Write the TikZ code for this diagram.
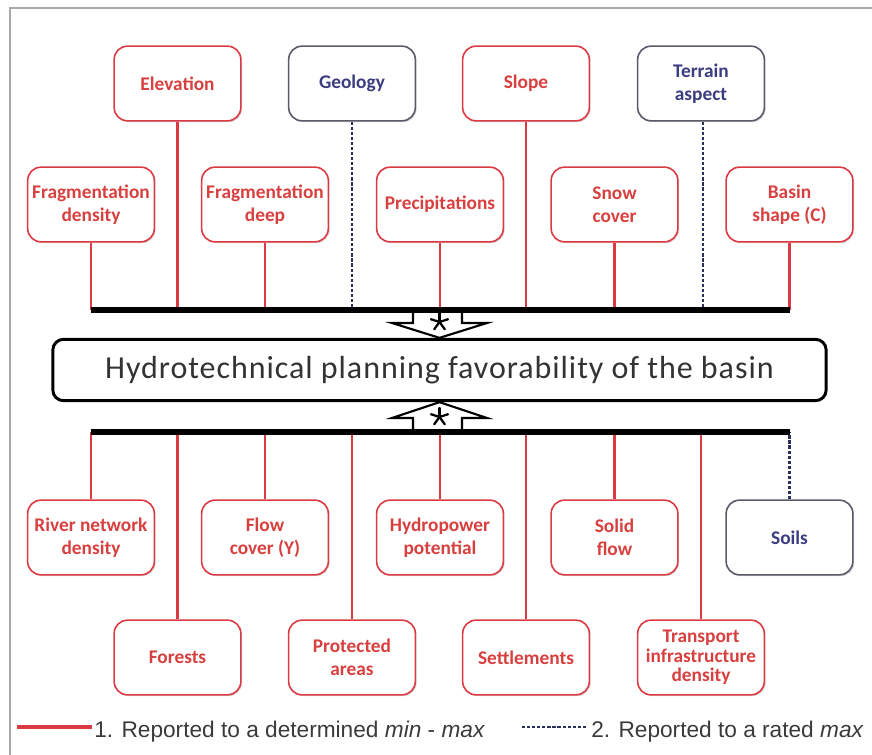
\documentclass[tikz,border=0pt]{standalone}
\usepackage{fontspec}
\setmainfont{Carlito}
\newfontfamily\legfont{Liberation Sans}
\newfontfamily\cenfont[LetterSpace=3]{Carlito}
\usetikzlibrary{shadows}
\definecolor{redl}{HTML}{DC3A42}
\definecolor{redt}{HTML}{D8403F}
\definecolor{navyl}{HTML}{2A2F5C}
\definecolor{navyt}{HTML}{3C3C80}
\definecolor{navyb}{HTML}{5A5A6A}
\definecolor{framec}{HTML}{A8A8A8}
\definecolor{legt}{HTML}{3A3A3A}
\tikzset{
  fbox/.style={draw=redl, line width=1.2pt, rounded corners=10pt, fill=white,
    minimum width=95pt, minimum height=56pt, inner sep=0pt, align=center,
    text=redt, font=\fontsize{14.5}{17.3}\selectfont\bfseries,
    drop shadow={shadow xshift=1pt, shadow yshift=-1pt, opacity=0.3}},
  gbox/.style={fbox, draw=navyb, text=navyt},
  redcon/.style={draw=redl, line width=1.6pt},
  bluecon/.style={draw=navyl, line width=1.9pt, dash pattern=on 2.4pt off 1.4pt},
  bus/.style={draw=black, line width=4pt},
  bigarrow/.style={draw=black, line width=1.6pt, fill=white, line join=miter},
  centbox/.style={draw=black, line width=2.2pt, rounded corners=8pt, fill=white,
    minimum width=580pt, minimum height=46pt, inner sep=0pt,
    text=black!80, font=\fontsize{24}{28}\selectfont\cenfont},
  legtext/.style={anchor=base west, inner sep=0pt, text=legt,
    font=\fontsize{17}{20}\selectfont\legfont}
}
\begin{document}
\begin{tikzpicture}[x=0.75pt,y=-0.75pt]
\useasboundingbox (0,0) rectangle (872,755);
\begin{scope}
\clip (0,0) rectangle (872,755);
\draw[framec, line width=1.5pt] (9.5,8.5) rectangle (900,800);
\end{scope}

% buses
\coordinate (tbL) at (91,310);
\coordinate (tbR) at (789.5,310);
\coordinate (bbL) at (91,432);
\coordinate (bbR) at (789.5,432);

% top boxes
\node[fbox] (elev) at (177.5,83.5) {Elevation};
\node[gbox] (geol) at (352,83.5) {Geology};
\node[fbox] (slope) at (526,83.5) {Slope};
\node[gbox] (terr) at (701,83.5) {Terrain\\aspect};
\node[fbox] (fdens) at (91,204.5) {Fragmentation\\density};
\node[fbox] (fdeep) at (265,204.5) {Fragmentation\\deep};
\node[fbox] (precip) at (440,204.5) {Precipitations};
\node[fbox] (snow) at (614.5,204.5) {Snow\\cover};
\node[fbox] (basin) at (789.5,204.5) {Basin\\shape (C)};

% bottom boxes
\node[fbox] (river) at (91,537.5) {River network\\density};
\node[fbox] (flow) at (265,537.5) {Flow\\cover (Y)};
\node[fbox] (hydro) at (440,537.5) {Hydropower\\potential};
\node[fbox] (solid) at (614.5,537.5) {Solid\\flow};
\node[gbox] (soils) at (789.5,537.5) {Soils};
\node[fbox] (forest) at (177.5,657.5) {Forests};
\node[fbox] (prot) at (352,657.5) {Protected\\areas};
\node[fbox] (settl) at (526,657.5) {Settlements};
\node[fbox, font=\fontsize{14.5}{14.8}\selectfont\bfseries] (transp) at (701,657.5) {Transport\\infrastructure\\density};

% top connectors
\draw[redcon] (fdens.south) -- (fdens.south |- tbL);
\draw[redcon] (elev.south) -- (elev.south |- tbL);
\draw[redcon] (fdeep.south) -- (fdeep.south |- tbL);
\draw[bluecon] (geol.south) -- (geol.south |- tbL);
\draw[redcon] (precip.south) -- (precip.south |- tbL);
\draw[redcon] (slope.south) -- (slope.south |- tbL);
\draw[redcon] (snow.south) -- (snow.south |- tbL);
\draw[bluecon] ([xshift=1.5pt]terr.south) -- ([xshift=1.5pt]terr.south |- tbL);
\draw[redcon] (basin.south) -- (basin.south |- tbL);

% bottom connectors
\draw[redcon] (river.north) -- (river.north |- bbL);
\draw[redcon] (forest.north) -- (forest.north |- bbL);
\draw[redcon] (flow.north) -- (flow.north |- bbL);
\draw[redcon] (prot.north) -- (prot.north |- bbL);
\draw[redcon] (hydro.north) -- (hydro.north |- bbL);
\draw[redcon] (settl.north) -- (settl.north |- bbL);
\draw[redcon] (solid.north) -- (solid.north |- bbL);
\draw[redcon] (transp.north) -- (transp.north |- bbL);
\draw[bluecon] (soils.north) -- (bbR);

% central box
\node[centbox] (center) at (439.5,370) {Hydrotechnical planning favorability of the basin};

% arrows
\draw[bigarrow] (413,312) -- (413,323) -- (392,323) -- (center.north) -- (487,323) -- (462,323) -- (462,312);
\draw[bigarrow] (413,430) -- (413,418) -- (392,418) -- (center.south) -- (487,418) -- (462,418) -- (462,430);

\draw[bus] (tbL) -- (tbR);
\draw[bus] (bbL) -- (bbR);

% asterisks
\coordinate (ast1) at (439.5,322);
\coordinate (ast2) at (439.5,417);
\foreach \c in {ast1,ast2}{
  \foreach \a in {90,18,162,-54,234}{
    \draw[black, line width=1.7pt, line cap=round] (\c) -- ++(\a:9 and -9);
  }
}

% legend
\coordinate (l1a) at (17,727);
\coordinate (l1b) at (92,727);
\draw[draw=redl, line width=2.4pt] (l1a) -- (l1b);
\node[legtext] (leg1) at (94,737) {1. Reported to a determined \textit{min} - \textit{max}};
\coordinate (l2a) at (522,727);
\coordinate (l2b) at (587,727);
\draw[bluecon] (l2a) -- (l2b);
\node[legtext] (leg2) at (591,737) {2. Reported to a rated \textit{max}};
\end{tikzpicture}
\end{document}
